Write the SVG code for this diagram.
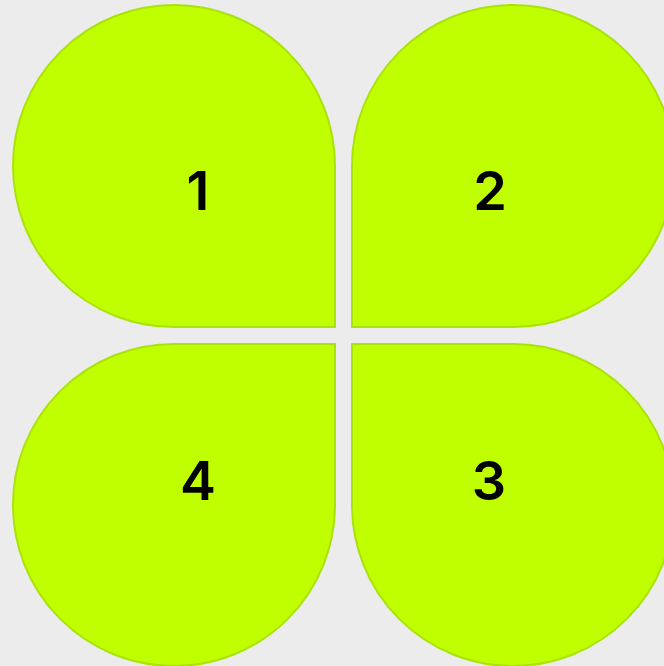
<svg xmlns="http://www.w3.org/2000/svg" width="664" height="666" viewBox="0 0 664 666">
<style>
.leaf{fill:#c0ff00;stroke:#aae20a;stroke-width:2}
.lbl{font-family:Inter,"Liberation Sans",sans-serif;font-size:54px;font-weight:600;fill:#000;text-anchor:middle}
</style>
<rect width="664" height="666" fill="#ececec"/>
<g id="node1"><path class="leaf" d="M335 166 L335 327 L174 327 A161 161 0 1 1 335 166 Z"/><text class="lbl" x="198" y="210">1</text></g>
<g id="node2"><path class="leaf" d="M352 166 L352 327 L513 327 A161 161 0 1 0 352 166 Z"/><text class="lbl" x="490" y="210">2</text></g>
<g id="node3"><path class="leaf" d="M352 505 L352 344 L513 344 A161 161 0 1 1 352 505 Z"/><text class="lbl" x="489" y="500">3</text></g>
<g id="node4"><path class="leaf" d="M174 344 L335 344 L335 505 A161 161 0 1 1 174 344 Z"/><text class="lbl" x="198" y="500">4</text></g>
<g id="connectors"></g>
</svg>
